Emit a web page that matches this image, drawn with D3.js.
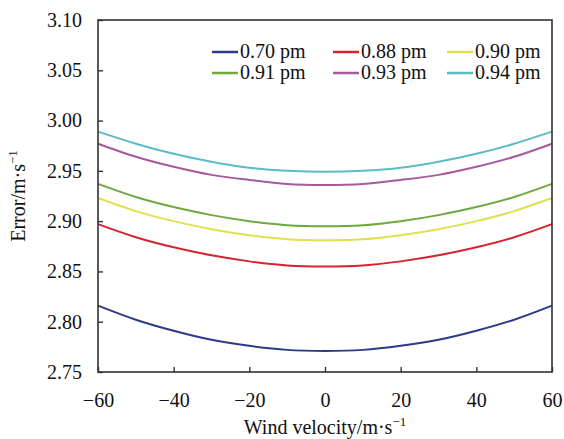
<!DOCTYPE html>
<html lang="en">
<head>
    <meta charset="UTF-8">
    <title>Error vs Wind Velocity</title>
    <script src="https://d3js.org/d3.v7.min.js"></script>
    <style>
        body { margin: 0; background: #fff; }
        svg text { font-family: "Times New Roman", "Liberation Serif", "DejaVu Serif", serif; fill: #111; }
    </style>
</head>
<body>
    <div id="chart-container"></div>

    <script>
        // data
        const windVelocity = [-60, -50, -40, -30, -20, -10, 0, 10, 20, 30, 40, 50, 60];
        const seriesNames = ["0.70 pm", "0.88 pm", "0.90 pm", "0.91 pm", "0.93 pm", "0.94 pm"];
        const err070 = [2.816, 2.802, 2.791, 2.782, 2.776, 2.772, 2.771, 2.772, 2.776, 2.782, 2.791, 2.802, 2.816];
        const err088 = [2.897, 2.884, 2.874, 2.866, 2.860, 2.856, 2.855, 2.856, 2.860, 2.866, 2.874, 2.884, 2.897];
        const err090 = [2.923, 2.910, 2.900, 2.892, 2.886, 2.882, 2.881, 2.882, 2.886, 2.892, 2.900, 2.910, 2.923];
        const err091 = [2.937, 2.924, 2.914, 2.906, 2.900, 2.896, 2.895, 2.896, 2.900, 2.906, 2.914, 2.924, 2.937];
        const err093 = [2.977, 2.964, 2.954, 2.946, 2.941, 2.937, 2.936, 2.937, 2.941, 2.946, 2.954, 2.964, 2.977];
        const err094 = [2.989, 2.977, 2.967, 2.959, 2.953, 2.950, 2.949, 2.950, 2.953, 2.959, 2.967, 2.977, 2.989];
        const xTicks = [-60, -40, -20, 0, 20, 40, 60];
        const yTicks = [2.75, 2.80, 2.85, 2.90, 2.95, 3.00, 3.05, 3.10];

        const allSeries = [err070, err088, err090, err091, err093, err094];
        const colors = ["#2d3a88", "#d6232f", "#e0e04e", "#6ea83f", "#a65a9c", "#5bbcc4"];

        const margin = { top: 20, right: 12, bottom: 67, left: 98 };
        const width = 564 - margin.left - margin.right;
        const height = 439 - margin.top - margin.bottom;

        const svg = d3.select("#chart-container")
            .append("svg")
            .attr("width", 564)
            .attr("height", 439)
            .append("g")
            .attr("transform", "translate(" + margin.left + "," + margin.top + ")");

        const x = d3.scaleLinear().domain([-60, 60]).range([0, width]);
        const y = d3.scaleLinear().domain([2.75, 3.10]).range([height, 0]);

        // curves
        const line = d3.line()
            .x(function(d, i) { return x(windVelocity[i]); })
            .y(function(d) { return y(d); })
            .curve(d3.curveNatural);

        allSeries.forEach(function(s, k) {
            svg.append("path")
                .datum(s)
                .attr("fill", "none")
                .attr("stroke", colors[k])
                .attr("stroke-width", 2)
                .attr("d", line);
        });

        // frame
        svg.append("rect")
            .attr("width", width)
            .attr("height", height)
            .attr("fill", "none")
            .attr("stroke", "#333")
            .attr("stroke-width", 1.6);

        // x-axis
        const xAxis = svg.append("g")
            .attr("transform", "translate(0," + height + ")")
            .call(d3.axisBottom(x).tickValues(xTicks).tickSizeInner(-5).tickSizeOuter(0)
                .tickFormat(function(d) { return d < 0 ? "\u2212" + Math.abs(d) : d; }));
        xAxis.select(".domain").remove();
        xAxis.selectAll("line").attr("stroke", "#333").attr("stroke-width", 1.4);
        xAxis.selectAll("text").attr("y", 21).style("font-size", "20px");

        // y-axis
        const yAxis = svg.append("g")
            .call(d3.axisLeft(y).tickValues(yTicks).tickSizeInner(-5).tickSizeOuter(0).tickFormat(d3.format(".2f")));
        yAxis.select(".domain").remove();
        yAxis.selectAll("line").attr("stroke", "#333").attr("stroke-width", 1.4);
        yAxis.selectAll("text").attr("x", -16).style("font-size", "20px");

        // axis titles
        const xTitle = svg.append("text")
            .attr("x", width / 2)
            .attr("y", height + 62)
            .attr("text-anchor", "middle")
            .style("font-size", "20px");
        xTitle.append("tspan").text("Wind velocity/m\u00b7s");
        xTitle.append("tspan").attr("dy", -8).style("font-size", "13px").text("\u22121");

        const yTitle = svg.append("text")
            .attr("transform", "translate(-73," + (height / 2) + ") rotate(-90)")
            .attr("text-anchor", "middle")
            .style("font-size", "20px");
        yTitle.append("tspan").text("Error/m\u00b7s");
        yTitle.append("tspan").attr("dy", -8).style("font-size", "13px").text("\u22121");

        // legend
        const legendCols = [114, 235, 349];
        const legendRows = [32, 53];
        seriesNames.forEach(function(name, k) {
            const lx = legendCols[k % 3];
            const ly = legendRows[Math.floor(k / 3)];
            svg.append("line")
                .attr("x1", lx).attr("x2", lx + 26)
                .attr("y1", ly).attr("y2", ly)
                .attr("stroke", colors[k])
                .attr("stroke-width", 2.5);
            svg.append("text")
                .attr("x", lx + 28)
                .attr("y", ly + 6)
                .style("font-size", "20px")
                .text(name);
        });
    </script>
</body>
</html>
